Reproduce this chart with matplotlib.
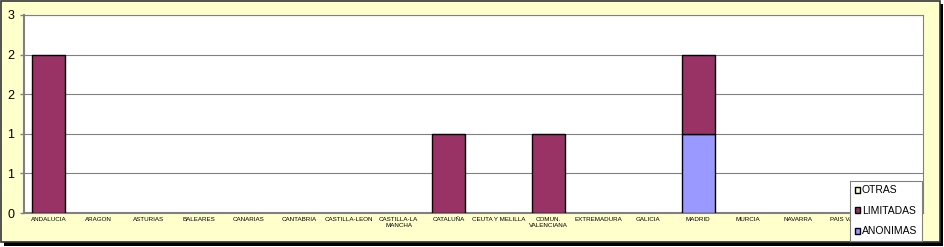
import matplotlib
matplotlib.use("Agg")
import matplotlib.pyplot as plt
from matplotlib.patches import Rectangle
import numpy as np

plt.rcParams["font.family"] = ["Liberation Sans", "DejaVu Sans"]

regiones = ["ANDALUCIA", "ARAGON", "ASTURIAS", "BALEARES", "CANARIAS", "CANTABRIA",
            "CASTILLA-LEON", "CASTILLA-LA\nMANCHA", "CATALUÑA", "CEUTA Y MELILLA",
            "COMUN.\nVALENCIANA", "EXTREMADURA", "GALICIA", "MADRID", "MURCIA",
            "NAVARRA", "PAIS VASCO", "LA RIOJA"]
anonimas = [0, 0, 0, 0, 0, 0, 0, 0, 0, 0, 0, 0, 0, 1, 0, 0, 0, 0]
limitadas = [2, 0, 0, 0, 0, 0, 0, 0, 1, 0, 1, 0, 0, 1, 0, 0, 0, 0]
otras = [0, 0, 0, 0, 0, 0, 0, 0, 0, 0, 0, 0, 0, 0, 0, 0, 0, 0]
y_ticks = [0, 0.5, 1, 1.5, 2, 2.5]
y_labels = ["0", "1", "1", "2", "2", "3"]

colores = {"ANONIMAS": "#9999FF", "LIMITADAS": "#993366", "OTRAS": "#FFFFCC"}

fig = plt.figure(figsize=(9.44, 2.47), dpi=100)
fig.patch.set_facecolor("white")

# marco del grafico con sombra
W, H = 944, 247
fig.patches.append(Rectangle((4 / W, 1 - 246 / H), 939 / W, 242 / H, transform=fig.transFigure,
                             facecolor="black", edgecolor="none", zorder=-3))
fig.patches.append(Rectangle((1 / W, 1 - 242 / H), 939 / W, 241 / H, transform=fig.transFigure,
                             facecolor="#FFFFCC", edgecolor="#333333", linewidth=1.2, zorder=-2))

ax = fig.add_axes([24 / W, 1 - 213 / H, 899 / W, 198 / H])
ax.set_facecolor("white")
x = np.arange(len(regiones))
w = 0.66
an = np.array(anonimas)
li = np.array(limitadas)
ot = np.array(otras)
b1 = ax.bar(x, an, w, color=colores["ANONIMAS"], edgecolor="black", linewidth=1, zorder=3)
b2 = ax.bar(x, li, w, bottom=an, color=colores["LIMITADAS"], edgecolor="black", linewidth=1, zorder=3)
b3 = ax.bar(x, ot, w, bottom=an + li, color=colores["OTRAS"], edgecolor="black", linewidth=1, zorder=3)
# quitar bordes de barras vacias
for bars in (b1, b2, b3):
    for r in bars:
        if r.get_height() == 0:
            r.set_visible(False)

ax.set_xlim(-0.5, len(regiones) - 0.5)
ax.set_ylim(0, 2.5)
ax.set_yticks(y_ticks)
ax.set_yticklabels(y_labels, fontsize=9)
ax.set_xticks(x)
ax.set_xticklabels(regiones, fontsize=4.5, linespacing=1.1)
ax.tick_params(axis="x", length=0, pad=3)
ax.tick_params(axis="y", length=3, width=1, color="#808080", pad=4)
ax.yaxis.grid(True, color="#808080", linewidth=0.8, zorder=0)
ax.set_axisbelow(True)
for s in ["left", "bottom"]:
    ax.spines[s].set_color("#808080")
    ax.spines[s].set_linewidth(1.5)
for s in ["top", "right"]:
    ax.spines[s].set_color("#808080")
    ax.spines[s].set_linewidth(0.8)

nombres = ["OTRAS", "LIMITADAS", "ANONIMAS"]
handles = [Rectangle((0, 0), 1, 1, facecolor=colores[n], edgecolor="black", linewidth=1) for n in nombres]
leg = fig.legend(handles, nombres, loc="lower right",
                 bbox_to_anchor=(922 / W, 1 - 241 / H), fontsize=7.5,
                 frameon=True, fancybox=False, edgecolor="#808080", facecolor="white",
                 framealpha=1, handlelength=0.5, handleheight=0.5, handletextpad=0.2,
                 labelspacing=1.0, borderpad=0.45, borderaxespad=0)
leg.get_frame().set_linewidth(0.8)
leg.set_zorder(10)

plt.savefig("out.png", dpi=100, facecolor=fig.get_facecolor())
